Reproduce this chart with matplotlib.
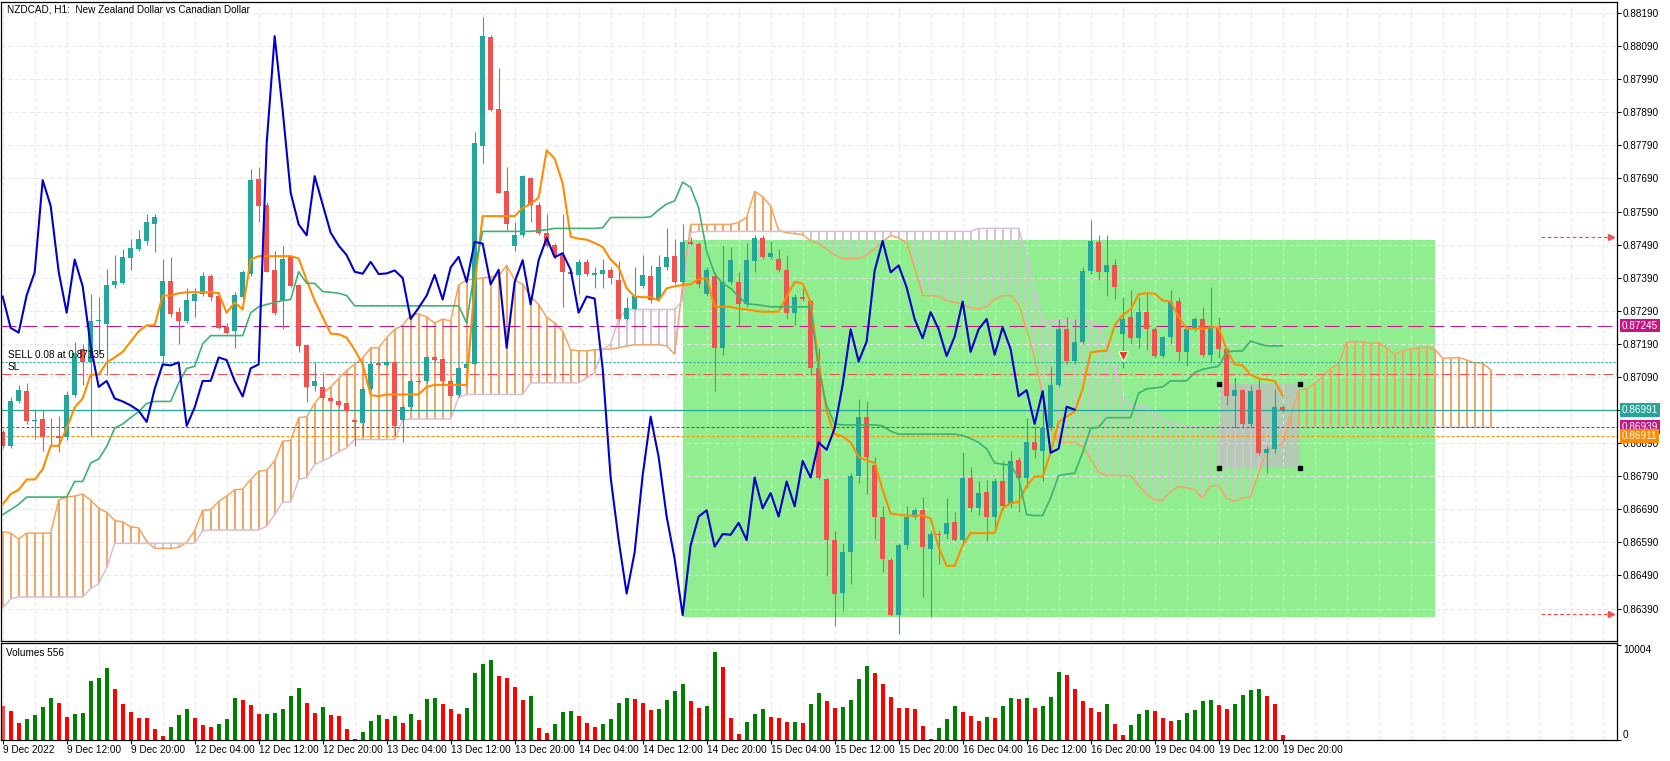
import numpy as np
import matplotlib
matplotlib.use('Agg')
import matplotlib.pyplot as plt
from matplotlib.patches import Rectangle
from matplotlib.ticker import FormatStrFormatter

plt.rcParams['font.family'] = ['Liberation Sans', 'DejaVu Sans']
plt.rcParams['font.size'] = 7

# NZDCAD H1 candles, bar 0 = 9 Dec 2022 04:00
opens = [0.86923, 0.86880, 0.87016, 0.87047, 0.86958, 0.86964, 0.86908, 0.86911, 0.86908, 0.87035,
         0.87174, 0.87134, 0.87259, 0.87250, 0.87367, 0.87373, 0.87449, 0.87477, 0.87501, 0.87551,
         0.87153, 0.87380, 0.87286, 0.87259, 0.87321, 0.87340, 0.87396, 0.87336, 0.87240, 0.87228,
         0.87333, 0.87402, 0.87688, 0.87611, 0.87414, 0.87324, 0.87452, 0.87367, 0.87187, 0.87064,
         0.87060, 0.87025, 0.87016, 0.87010, 0.86960, 0.86950, 0.87054, 0.87131, 0.87126, 0.87134,
         0.86960, 0.86998, 0.87076, 0.87078, 0.87149, 0.87143, 0.87078, 0.87035, 0.87116, 0.87128,
         0.87787, 0.88117, 0.87899, 0.87652, 0.87485, 0.87518, 0.87690, 0.87611, 0.87526, 0.87489,
         0.87458, 0.87408, 0.87398, 0.87438, 0.87399, 0.87402, 0.87414, 0.87383, 0.87265, 0.87296,
         0.87364, 0.87396, 0.87327, 0.87421, 0.87455, 0.87377, 0.87498, 0.87493, 0.87340, 0.87396,
         0.87178, 0.87377, 0.87377, 0.87309, 0.87439, 0.87510, 0.87452, 0.87448, 0.87414, 0.87284,
         0.87333, 0.87321, 0.87116, 0.86783, 0.86597, 0.86438, 0.86560, 0.86792, 0.86970, 0.86823,
         0.86668, 0.86537, 0.86370, 0.86581, 0.86668, 0.86689, 0.86569, 0.86616, 0.86615, 0.86652,
         0.86597, 0.86784, 0.86693, 0.86743, 0.86668, 0.86774, 0.86705, 0.86838, 0.86786, 0.86892,
         0.86867, 0.86935, 0.87066, 0.87234, 0.87137, 0.87197, 0.87411, 0.87498, 0.87406, 0.87427,
         0.87219, 0.87271, 0.87207, 0.87286, 0.87234, 0.87153, 0.87212, 0.87321, 0.87166, 0.87234,
         0.87265, 0.87157, 0.87240, 0.87174, 0.87032, 0.87050, 0.86948, 0.87050, 0.86861, 0.86873,
         0.87000]
highs = [0.86929, 0.87029, 0.87066, 0.87072, 0.86991, 0.86991, 0.86967, 0.86973, 0.87047, 0.87197,
         0.87190, 0.87340, 0.87333, 0.87417, 0.87458, 0.87477, 0.87508, 0.87533, 0.87582, 0.87582,
         0.87445, 0.87452, 0.87302, 0.87358, 0.87358, 0.87408, 0.87402, 0.87346, 0.87253, 0.87346,
         0.87414, 0.87719, 0.87725, 0.87619, 0.87470, 0.87485, 0.87458, 0.87370, 0.87190, 0.87134,
         0.87103, 0.87029, 0.87020, 0.87013, 0.86963, 0.87060, 0.87134, 0.87134, 0.87137, 0.87137,
         0.87004, 0.87085, 0.87085, 0.87153, 0.87153, 0.87147, 0.87085, 0.87122, 0.87134, 0.87829,
         0.88179, 0.88123, 0.88024, 0.87725, 0.87557, 0.87700, 0.87694, 0.87619, 0.87582, 0.87495,
         0.87582, 0.87414, 0.87445, 0.87445, 0.87421, 0.87445, 0.87421, 0.87439, 0.87333, 0.87421,
         0.87458, 0.87427, 0.87458, 0.87539, 0.87508, 0.87551, 0.87514, 0.87498, 0.87421, 0.87408,
         0.87489, 0.87483, 0.87408, 0.87495, 0.87520, 0.87518, 0.87501, 0.87477, 0.87458, 0.87340,
         0.87358, 0.87324, 0.87178, 0.86786, 0.86625, 0.86587, 0.86799, 0.87022, 0.87016, 0.86848,
         0.86699, 0.86544, 0.86587, 0.86699, 0.86693, 0.86727, 0.86625, 0.86625, 0.86724, 0.86681,
         0.86863, 0.86817, 0.86774, 0.86780, 0.86786, 0.86836, 0.86867, 0.86848, 0.86967, 0.86942,
         0.87047, 0.87122, 0.87265, 0.87271, 0.87265, 0.87421, 0.87564, 0.87520, 0.87520, 0.87448,
         0.87333, 0.87352, 0.87333, 0.87343, 0.87240, 0.87215, 0.87352, 0.87331, 0.87236, 0.87271,
         0.87302, 0.87361, 0.87271, 0.87178, 0.87091, 0.87054, 0.87066, 0.87085, 0.86880, 0.87054,
         0.87004]
lows = [0.86876, 0.86876, 0.87010, 0.86948, 0.86901, 0.86867, 0.86880, 0.86863, 0.86898, 0.87029,
        0.87066, 0.86911, 0.87159, 0.87095, 0.87358, 0.87370, 0.87412, 0.87470, 0.87489, 0.87468,
        0.87128, 0.87271, 0.87190, 0.87253, 0.87271, 0.87336, 0.87321, 0.87234, 0.87219, 0.87178,
        0.87327, 0.87396, 0.87557, 0.87406, 0.87277, 0.87234, 0.87361, 0.87166, 0.87013, 0.87047,
        0.87022, 0.87013, 0.87000, 0.86985, 0.86880, 0.86911, 0.87050, 0.87122, 0.87122, 0.86911,
        0.86892, 0.86991, 0.87072, 0.87072, 0.87134, 0.87072, 0.87029, 0.87029, 0.87112, 0.87125,
        0.87738, 0.87893, 0.87645, 0.87533, 0.87470, 0.87514, 0.87557, 0.87520, 0.87483, 0.87448,
        0.87302, 0.87396, 0.87340, 0.87396, 0.87358, 0.87358, 0.87370, 0.87259, 0.87261, 0.87294,
        0.87358, 0.87315, 0.87321, 0.87414, 0.87370, 0.87370, 0.87489, 0.87358, 0.87336, 0.87047,
        0.87157, 0.87370, 0.87246, 0.87302, 0.87408, 0.87445, 0.87445, 0.87408, 0.87265, 0.87246,
        0.87321, 0.87097, 0.86780, 0.86488, 0.86338, 0.86382, 0.86463, 0.86768, 0.86736, 0.86600,
        0.86500, 0.86366, 0.86314, 0.86569, 0.86662, 0.86425, 0.86363, 0.86525, 0.86600, 0.86593,
        0.86587, 0.86681, 0.86674, 0.86593, 0.86637, 0.86687, 0.86693, 0.86681, 0.86755, 0.86846,
        0.86774, 0.86929, 0.87060, 0.87128, 0.87128, 0.87190, 0.87402, 0.87383, 0.87336, 0.87327,
        0.87116, 0.87190, 0.87178, 0.87172, 0.87147, 0.87147, 0.87190, 0.87137, 0.87122, 0.87228,
        0.87149, 0.87134, 0.87147, 0.87004, 0.86935, 0.86935, 0.86935, 0.86855, 0.86799, 0.86861,
        0.86985]
closes = [0.86880, 0.87016, 0.87050, 0.86958, 0.86960, 0.86908, 0.86907, 0.86904, 0.87035, 0.87162,
          0.87134, 0.87259, 0.87261, 0.87367, 0.87380, 0.87452, 0.87479, 0.87508, 0.87557, 0.87574,
          0.87380, 0.87280, 0.87259, 0.87324, 0.87340, 0.87396, 0.87333, 0.87238, 0.87224, 0.87337,
          0.87406, 0.87685, 0.87607, 0.87408, 0.87284, 0.87445, 0.87364, 0.87184, 0.87060, 0.87078,
          0.87025, 0.87016, 0.87004, 0.86988, 0.86954, 0.87054, 0.87128, 0.87125, 0.87134, 0.86942,
          0.86998, 0.87078, 0.87078, 0.87149, 0.87141, 0.87078, 0.87031, 0.87116, 0.87128, 0.87796,
          0.88120, 0.87896, 0.87647, 0.87551, 0.87518, 0.87697, 0.87611, 0.87526, 0.87487, 0.87458,
          0.87408, 0.87402, 0.87438, 0.87401, 0.87403, 0.87412, 0.87389, 0.87265, 0.87299, 0.87336,
          0.87399, 0.87324, 0.87421, 0.87453, 0.87377, 0.87498, 0.87493, 0.87370, 0.87414, 0.87178,
          0.87377, 0.87443, 0.87309, 0.87443, 0.87510, 0.87452, 0.87464, 0.87414, 0.87284, 0.87333,
          0.87327, 0.87116, 0.86786, 0.86597, 0.86435, 0.86560, 0.86792, 0.86970, 0.86848, 0.86668,
          0.86540, 0.86370, 0.86581, 0.86668, 0.86687, 0.86577, 0.86615, 0.86613, 0.86649, 0.86597,
          0.86786, 0.86693, 0.86739, 0.86668, 0.86774, 0.86699, 0.86836, 0.86786, 0.86892, 0.86870,
          0.86935, 0.87066, 0.87234, 0.87137, 0.87197, 0.87411, 0.87501, 0.87406, 0.87427, 0.87361,
          0.87265, 0.87207, 0.87286, 0.87234, 0.87153, 0.87212, 0.87318, 0.87166, 0.87234, 0.87265,
          0.87157, 0.87240, 0.87174, 0.87032, 0.87050, 0.86948, 0.87047, 0.86861, 0.86873, 0.87000,
          0.86991]
volumes = [3580, 3054, 1825, 2211, 2633, 3475, 4423, 3931, 2422, 2773,
           2843, 6213, 6529, 7582, 5370, 3826, 2984, 2352, 2330, 1158,
           421, 1369, 2633, 3264, 2317, 1580, 1369, 1685, 2211, 4423,
           4212, 3686, 2700, 2740, 2843, 3264, 4633, 5476, 3931, 2843,
           3475, 2633, 2527, 1158, 105, 842, 2001, 2633, 2211, 2527,
           1790, 2738, 2106, 4317, 4423, 3791, 3264, 2738, 3370, 7055,
           8003, 8424, 6739, 6529, 5581, 4212, 4633, 1264, 737, 1685,
           2948, 3054, 2527, 1790, 1369, 1685, 2211, 3896, 4423, 4317,
           3896, 3159, 3264, 4212, 5160, 5897, 4107, 3370, 3580, 9266,
           7687, 2317, 632, 1895, 2738, 3264, 2422, 2317, 1860, 1895,
           1790, 3791, 4949, 4107, 3370, 3475, 4212, 6423, 7792, 7055,
           5897, 4528, 3400, 3380, 3264, 1474, 105, 1264, 2211, 3580,
           2948, 2527, 2001, 2422, 2317, 3580, 4423, 4317, 4423, 3370,
           3580, 4528, 7160, 6845, 5370, 4107, 3370, 2948, 3791, 1685,
           527, 1580, 2738, 3159, 3089, 2317, 2001, 2106, 2843, 3159,
           4107, 4212, 3686, 3264, 3791, 4739, 5265, 5335, 4633, 3791,
           556]

# Ichimoku lines
tenkan = [0.86705, 0.86736, 0.86749, 0.86780, 0.86780, 0.86811, 0.86882, 0.86882, 0.86935, 0.86998,
          0.87025, 0.87097, 0.87097, 0.87134, 0.87149, 0.87166, 0.87197, 0.87228, 0.87246, 0.87246,
          0.87336, 0.87336, 0.87343, 0.87346, 0.87346, 0.87346, 0.87346, 0.87343, 0.87284, 0.87315,
          0.87294, 0.87445, 0.87455, 0.87455, 0.87455, 0.87455, 0.87455, 0.87448, 0.87383, 0.87321,
          0.87271, 0.87221, 0.87219, 0.87209, 0.87172, 0.87128, 0.87035, 0.87032, 0.87037, 0.87037,
          0.87037, 0.87037, 0.87037, 0.87060, 0.87066, 0.87066, 0.87066, 0.87066, 0.87066, 0.87370,
          0.87576, 0.87576, 0.87576, 0.87576, 0.87576, 0.87601, 0.87613, 0.87632, 0.87775, 0.87750,
          0.87675, 0.87514, 0.87508, 0.87505, 0.87495, 0.87483, 0.87445, 0.87421, 0.87358, 0.87333,
          0.87331, 0.87331, 0.87321, 0.87358, 0.87364, 0.87368, 0.87370, 0.87386, 0.87389, 0.87302,
          0.87302, 0.87302, 0.87296, 0.87294, 0.87290, 0.87287, 0.87287, 0.87287, 0.87333, 0.87377,
          0.87373, 0.87315, 0.87134, 0.86985, 0.86917, 0.86911, 0.86892, 0.86848, 0.86838, 0.86830,
          0.86749, 0.86677, 0.86674, 0.86671, 0.86671, 0.86671, 0.86662, 0.86575, 0.86519, 0.86519,
          0.86581, 0.86618, 0.86618, 0.86618, 0.86618, 0.86693, 0.86709, 0.86712, 0.86761, 0.86789,
          0.86789, 0.86861, 0.86954, 0.86970, 0.86985, 0.87054, 0.87164, 0.87168, 0.87169, 0.87246,
          0.87277, 0.87294, 0.87340, 0.87343, 0.87342, 0.87321, 0.87318, 0.87271, 0.87236, 0.87236,
          0.87236, 0.87240, 0.87240, 0.87172, 0.87128, 0.87125, 0.87097, 0.87085, 0.87082, 0.87078,
          0.87035]
kijun = [0.86674, 0.86689, 0.86705, 0.86727, 0.86727, 0.86727, 0.86727, 0.86727, 0.86727, 0.86774,
         0.86774, 0.86830, 0.86842, 0.86880, 0.86935, 0.86948, 0.86967, 0.86985, 0.87010, 0.87016,
         0.87016, 0.87016, 0.87072, 0.87116, 0.87122, 0.87190, 0.87215, 0.87215, 0.87215, 0.87215,
         0.87215, 0.87284, 0.87302, 0.87309, 0.87315, 0.87321, 0.87324, 0.87408, 0.87373, 0.87373,
         0.87348, 0.87346, 0.87343, 0.87336, 0.87305, 0.87305, 0.87305, 0.87305, 0.87305, 0.87305,
         0.87305, 0.87305, 0.87305, 0.87305, 0.87305, 0.87305, 0.87305, 0.87305, 0.87253, 0.87414,
         0.87530, 0.87530, 0.87530, 0.87530, 0.87530, 0.87530, 0.87530, 0.87532, 0.87535, 0.87539,
         0.87539, 0.87539, 0.87539, 0.87539, 0.87539, 0.87541, 0.87572, 0.87572, 0.87572, 0.87572,
         0.87572, 0.87574, 0.87595, 0.87613, 0.87622, 0.87679, 0.87663, 0.87601, 0.87470, 0.87402,
         0.87373, 0.87358, 0.87333, 0.87311, 0.87309, 0.87306, 0.87302, 0.87302, 0.87302, 0.87302,
         0.87302, 0.87302, 0.87110, 0.87004, 0.86948, 0.86945, 0.86945, 0.86945, 0.86945, 0.86945,
         0.86942, 0.86926, 0.86917, 0.86917, 0.86917, 0.86917, 0.86917, 0.86917, 0.86917, 0.86917,
         0.86913, 0.86904, 0.86892, 0.86873, 0.86830, 0.86826, 0.86823, 0.86786, 0.86674, 0.86671,
         0.86671, 0.86724, 0.86792, 0.86796, 0.86799, 0.86861, 0.86935, 0.86938, 0.86967, 0.86967,
         0.86967, 0.86967, 0.87041, 0.87054, 0.87057, 0.87060, 0.87078, 0.87078, 0.87078, 0.87103,
         0.87113, 0.87118, 0.87122, 0.87166, 0.87168, 0.87169, 0.87199, 0.87190, 0.87184, 0.87184,
         0.87184]
span_a = [0.86622, 0.86618, 0.86600, 0.86618, 0.86618, 0.86618, 0.86618, 0.86718, 0.86727, 0.86730,
          0.86736, 0.86718, 0.86693, 0.86681, 0.86656, 0.86652, 0.86637, 0.86634, 0.86593, 0.86572,
          0.86572, 0.86572, 0.86575, 0.86590, 0.86625, 0.86687, 0.86689, 0.86714, 0.86730, 0.86749,
          0.86751, 0.86780, 0.86805, 0.86808, 0.86836, 0.86896, 0.86898, 0.86967, 0.86970, 0.87010,
          0.87041, 0.87060, 0.87085, 0.87110, 0.87128, 0.87147, 0.87178, 0.87178, 0.87209, 0.87234,
          0.87246, 0.87277, 0.87281, 0.87271, 0.87253, 0.87265, 0.87259, 0.87368, 0.87383, 0.87386,
          0.87389, 0.87393, 0.87396, 0.87427, 0.87383, 0.87370, 0.87333, 0.87309, 0.87271, 0.87253,
          0.87228, 0.87172, 0.87169, 0.87169, 0.87172, 0.87174, 0.87174, 0.87178, 0.87184, 0.87187,
          0.87187, 0.87187, 0.87187, 0.87184, 0.87159, 0.87370, 0.87551, 0.87551, 0.87551, 0.87551,
          0.87551, 0.87551, 0.87557, 0.87572, 0.87651, 0.87635, 0.87607, 0.87533, 0.87526, 0.87523,
          0.87520, 0.87501, 0.87493, 0.87477, 0.87458, 0.87448, 0.87448, 0.87448, 0.87458, 0.87477,
          0.87498, 0.87518, 0.87510, 0.87495, 0.87421, 0.87336, 0.87336, 0.87333, 0.87321, 0.87315,
          0.87309, 0.87299, 0.87296, 0.87302, 0.87324, 0.87336, 0.87336, 0.87309, 0.87234, 0.87147,
          0.87035, 0.86935, 0.86892, 0.86892, 0.86892, 0.86880, 0.86842, 0.86801, 0.86792, 0.86792,
          0.86792, 0.86792, 0.86761, 0.86736, 0.86718, 0.86718, 0.86743, 0.86759, 0.86755, 0.86749,
          0.86724, 0.86761, 0.86761, 0.86722, 0.86714, 0.86724, 0.86727, 0.86799, 0.86867, 0.86880,
          0.86888, 0.86973, 0.87050, 0.87054, 0.87070, 0.87091, 0.87116, 0.87128, 0.87194, 0.87197,
          0.87197, 0.87190, 0.87194, 0.87178, 0.87157, 0.87169, 0.87174, 0.87178, 0.87180, 0.87174,
          0.87147, 0.87147, 0.87149, 0.87141, 0.87132, 0.87132, 0.87112]
span_b = [0.86391, 0.86419, 0.86425, 0.86425, 0.86425, 0.86425, 0.86425, 0.86425, 0.86425, 0.86425,
          0.86425, 0.86450, 0.86465, 0.86513, 0.86587, 0.86587, 0.86587, 0.86587, 0.86587, 0.86587,
          0.86587, 0.86587, 0.86587, 0.86587, 0.86587, 0.86625, 0.86627, 0.86627, 0.86627, 0.86627,
          0.86627, 0.86627, 0.86627, 0.86639, 0.86674, 0.86712, 0.86712, 0.86780, 0.86786, 0.86826,
          0.86836, 0.86848, 0.86863, 0.86876, 0.86901, 0.86901, 0.86901, 0.86901, 0.86901, 0.86901,
          0.86960, 0.86963, 0.86963, 0.86963, 0.86963, 0.86963, 0.86963, 0.87029, 0.87037, 0.87037,
          0.87037, 0.87037, 0.87037, 0.87037, 0.87037, 0.87037, 0.87072, 0.87072, 0.87072, 0.87072,
          0.87072, 0.87072, 0.87072, 0.87087, 0.87103, 0.87172, 0.87190, 0.87265, 0.87294, 0.87294,
          0.87294, 0.87294, 0.87294, 0.87294, 0.87294, 0.87321, 0.87526, 0.87530, 0.87530, 0.87530,
          0.87530, 0.87530, 0.87530, 0.87530, 0.87530, 0.87530, 0.87530, 0.87530, 0.87530, 0.87530,
          0.87530, 0.87530, 0.87530, 0.87530, 0.87530, 0.87530, 0.87530, 0.87530, 0.87530, 0.87530,
          0.87530, 0.87530, 0.87530, 0.87530, 0.87530, 0.87530, 0.87530, 0.87530, 0.87530, 0.87530,
          0.87530, 0.87530, 0.87539, 0.87539, 0.87539, 0.87539, 0.87539, 0.87539, 0.87458, 0.87358,
          0.87261, 0.87261, 0.87261, 0.87261, 0.87261, 0.87261, 0.87261, 0.87246, 0.87197, 0.87134,
          0.87029, 0.87008, 0.87004, 0.86998, 0.86979, 0.86960, 0.86950, 0.86945, 0.86940, 0.86938,
          0.86938, 0.86938, 0.86938, 0.86938, 0.86938, 0.86938, 0.86938, 0.86938, 0.86938, 0.86938,
          0.86938, 0.86938, 0.86938, 0.86938, 0.86938, 0.86938, 0.86938, 0.86938, 0.86938, 0.86938,
          0.86938, 0.86938, 0.86938, 0.86938, 0.86938, 0.86938, 0.86938, 0.86938, 0.86938, 0.86938,
          0.86938, 0.86938, 0.86938, 0.86938, 0.86938, 0.86938, 0.86938]
chikou_shift = 26

time_labels = ['9 Dec 2022', '9 Dec 12:00', '9 Dec 20:00', '12 Dec 04:00', '12 Dec 12:00',
               '12 Dec 20:00', '13 Dec 04:00', '13 Dec 12:00', '13 Dec 20:00', '14 Dec 04:00',
               '14 Dec 12:00', '14 Dec 20:00', '15 Dec 04:00', '15 Dec 12:00', '15 Dec 20:00',
               '16 Dec 04:00', '16 Dec 12:00', '16 Dec 20:00', '19 Dec 04:00', '19 Dec 12:00',
               '19 Dec 20:00']
price_ticks = [0.86390, 0.86490, 0.86590, 0.86690, 0.86790, 0.86890, 0.86990, 0.87090, 0.87190, 0.87290,
               0.87390, 0.87490, 0.87590, 0.87690, 0.87790, 0.87890, 0.87990, 0.88090, 0.88190]

# trade objects on the chart
bid = 0.86991
sell_price = 0.87135
sl_price = 0.87100
level_pink = 0.87245
level_dot = 0.86939
level_orange = 0.86911
arrow_levels = [0.87512, 0.86372]
green_box = (85, 179, 0.86364, 0.87504)   # bar from, bar to, low, high
grey_box = (152, 162.2, 0.86814, 0.87070)
sell_mark = (140, 0.87152)

TEAL = '#26a69a'
RED = '#ef5350'
PINK = '#c71585'
ORANGE = '#ff8c00'

W, H = 1670, 761
fig = plt.figure(figsize=(W / 100, H / 100), dpi=100)


def px_axes(x0, y0, x1, y1):
    return fig.add_axes([x0 / W, 1 - y1 / H, (x1 - x0) / W, (y1 - y0) / H])


ax = px_axes(1, 2, 1617, 641)
axv = px_axes(1, 643, 1617, 740)

o = np.array(opens)
h = np.array(highs)
l = np.array(lows)
c = np.array(closes)
idx = np.arange(len(c))
up = c >= o
cols = np.where(up, TEAL, RED)

xlim = (-0.21, 201.8)
grid_x = np.arange(0, 202, 4)
lab_x = np.arange(0, 161, 8)

# ---- main panel ----
gx0, gx1, gy0, gy1 = green_box
ax.add_patch(Rectangle((gx0, gy0), gx1 - gx0, gy1 - gy0, fc='#90ee90', ec='none', zorder=0.2))
bx0, bx1, by0, by1 = grey_box
ax.add_patch(Rectangle((bx0, by0), bx1 - bx0, by1 - by0, fc='silver', alpha=0.75, ec='none', zorder=0.3))
ax.plot([bx0, bx1, bx1, bx0], [by1, by1, by0, by0], ls='none', marker='s', ms=2.2, color='black', zorder=5)

# cloud
sa = np.array(span_a)
sb = np.array(span_b)
cx = np.arange(len(sa))
hatch_col = np.where(sa >= sb, '#f4a460', '#d8bfd8')
ax.vlines(cx, np.minimum(sa, sb), np.maximum(sa, sb), colors=hatch_col, lw=1.4, zorder=1)
ax.plot(cx, sa, color='#f4a460', lw=1.1, zorder=1.1)
ax.plot(cx, sb, color='#d8bfd8', lw=1.1, zorder=1.1)

# level lines
ax.axhline(level_pink, color=PINK, lw=0.72, ls=(0, (15, 6)), zorder=1.5)
ax.axhline(sell_price, color='#20a090', lw=0.72, ls=(0, (2, 2)), zorder=1.5)
ax.axhline(sl_price, color=RED, lw=0.72, ls=(0, (10, 3, 2, 3)), zorder=1.5)
ax.axhline(bid, color=TEAL, lw=0.9, zorder=1.5)
ax.axhline(level_dot, color=PINK, lw=0.72, ls=(0, (3, 2)), zorder=1.5)
ax.axhline(level_orange, color=ORANGE, lw=0.72, ls=(0, (3, 2)), zorder=1.5)
for lv in arrow_levels:
    ax.plot([192.3, 201.0], [lv, lv], color=RED, lw=0.9, ls=(0, (3, 2)), zorder=1.5)
    ax.plot([201.0], [lv], marker='>', ms=4, color=RED, zorder=1.6)

# candles
ax.vlines(idx, l, h, colors=cols, lw=0.8, zorder=2)
body = np.maximum(np.abs(c - o), 0.00003)
ax.bar(idx, body, bottom=np.minimum(o, c), width=0.6, color=cols, lw=0, zorder=2.1)

# ichimoku lines
ax.plot(idx, tenkan, color=ORANGE, lw=1.5, zorder=3)
ax.plot(idx, kijun, color='#3cb371', lw=1.2, zorder=3)
ax.plot(idx[chikou_shift:] - chikou_shift, c[chikou_shift:], color='#0000cd', lw=1.5, zorder=3.1)

ax.plot([sell_mark[0]], [sell_mark[1]], marker='v', ms=7, color='#e0401c', mec='white', mew=0.8, zorder=4)

ax.set_xlim(*xlim)
ax.set_ylim(0.862919, 0.882233)
ax.set_xticks(grid_x)
ax.tick_params(axis='x', length=0, labelbottom=False)
ax.yaxis.tick_right()
ax.set_yticks(price_ticks)
ax.yaxis.set_major_formatter(FormatStrFormatter('%.5f'))
ax.tick_params(axis='y', direction='out', length=2.9, width=0.72, pad=1.4, labelsize=7.2)
ax.grid(True, color='#e6e6e6', ls=(0, (4, 3)), lw=0.72)
ax.set_axisbelow(True)

for lv, colr in [(level_pink, PINK), (bid, TEAL), (level_dot, PINK), (level_orange, ORANGE)]:
    ax.text(1.0028, lv, f'{lv:.5f}', transform=ax.get_yaxis_transform(), color='white',
            fontsize=7.2, va='center', ha='left', clip_on=False, zorder=10,
            bbox=dict(boxstyle='square,pad=0.18', fc=colr, ec='none'))

# ---- volume panel ----
v = np.array(volumes)
vcols = [RED] + ['#008000' if v[i] > v[i - 1] else '#ff0000' for i in range(1, len(v))]
axv.bar(idx, v, width=0.5, color=vcols, lw=0, zorder=2)
axv.set_xlim(*xlim)
axv.set_ylim(0, 10215)
axv.set_xticks(lab_x)
axv.set_xticklabels(time_labels, ha='left')
axv.set_xticks(grid_x, minor=True)
axv.tick_params(axis='x', which='major', direction='out', length=2.9, width=0.72, pad=1, labelsize=7.2)
axv.tick_params(axis='x', which='minor', length=0)
axv.grid(True, which='both', axis='x', color='#e6e6e6', ls=(0, (4, 3)), lw=0.72)
axv.set_axisbelow(True)
axv.yaxis.tick_right()
axv.set_yticks([0, 10004])
axv.set_yticklabels(['0', '10004'])
axv.tick_params(axis='y', direction='out', length=2.9, width=0.72, pad=1.4, labelsize=7.2)
ylabs = axv.get_yticklabels()
ylabs[0].set_va('bottom')
ylabs[1].set_va('top')

for a in (ax, axv):
    for s in a.spines.values():
        s.set_linewidth(0.9)
        s.set_color('black')

fig.text(7 / W, 1 - 9 / H, 'NZDCAD, H1:  New Zealand Dollar vs Canadian Dollar', fontsize=7.2, va='center')
fig.text(7.5 / W, 1 - 355 / H, 'SELL 0.08 at 0.87135', fontsize=7.2, va='center', zorder=10)
fig.text(7.5 / W, 1 - 367 / H, 'SL', fontsize=7.2, va='center', zorder=10)
fig.text(6 / W, 1 - 653 / H, 'Volumes 556', fontsize=7.2, va='center')

fig.savefig('out.png', dpi=100)
